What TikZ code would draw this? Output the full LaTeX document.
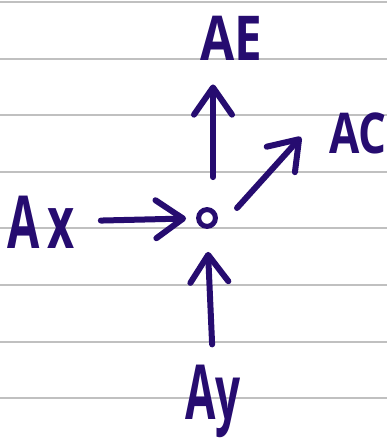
\documentclass[tikz,border=0pt]{standalone}
\usepackage{fontspec}
\setmainfont{Open Sans}
\usepackage{graphicx}
\usetikzlibrary{arrows.meta,calc}
\definecolor{inkpen}{RGB}{38,12,112}
\definecolor{ruleline}{RGB}{192,192,192}
\tikzset{
  penlabel/.style={text=inkpen, inner sep=0pt},
  penarrow/.style={draw=inkpen, line width=0.15cm, line cap=round, line join=round,
                   -{Straight Barb[length=0.68cm, width=0.95cm, round]}},
  hubnode/.style={circle, draw=inkpen, line width=0.125cm, minimum size=0.42cm, inner sep=0pt}
}

\begin{document}
\begin{tikzpicture}[x=0.025cm, y=-0.025cm]
  % paper and ruled lines
  \fill[white] (0,0) rectangle (387,444);
  \useasboundingbox (0,0) rectangle (387,444);
  \foreach \k in {0,...,7}
    \draw[ruleline, line width=0.05cm] (0,{2+56.6*\k}) -- (387,{2+56.6*\k});

  % junction point
  \node[hubnode] (hub) at (207,218) {};

  % labels
  \node[penlabel, font=\fontsize{44}{44}\selectfont\bfseries] (ae) at (231,38) {\scalebox{0.8}[1]{AE}};
  \node[penlabel, font=\fontsize{40}{40}\selectfont\bfseries] (ac) at (358,133) {\scalebox{0.78}[1]{AC}};
  \node[penlabel, font=\fontsize{52}{52}\selectfont\bfseries] (ax) at (41,222) {\scalebox{0.64}[1]{A\,x}};
  \node[penlabel, font=\fontsize{54}{54}\selectfont\bfseries] (ay) at (213,401) {\scalebox{0.58}[1]{Ay}};

  % arrows
  \draw[penarrow, shorten <=0.65cm, shorten >=0.25cm] (ax) -- (hub);
  \draw[penarrow, shorten <=0.75cm, shorten >=0.6cm]
    ([xshift=0.15cm]hub.north) -- ([xshift=0.15cm]hub.north |- ae.south);
  \draw[penarrow] ([shift={(30,-10)}]hub.center) -- ([shift={(-28,4)}]ac.west);
  \draw[penarrow, shorten <=0.5cm, shorten >=0.575cm] (ay.north) -- (hub.south);
\end{tikzpicture}
\end{document}
